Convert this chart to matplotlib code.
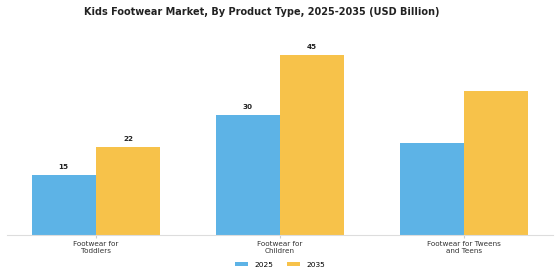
import numpy as np
import matplotlib.pyplot as plt

categories = ['Footwear for\nToddlers', 'Footwear for\nChildren', 'Footwear for Tweens\nand Teens']
values_2025 = [15, 30, 23]
values_2035 = [22, 45, 36]
labels_2025 = ['15', '30', '']
labels_2035 = ['22', '45', '']

blue = '#5DB3E6'
yellow = '#F7C24A'

fig, ax = plt.subplots(figsize=(5.6, 2.8), dpi=100)
x = np.arange(len(categories))
w = 0.35

b1 = ax.bar(x - w / 2, values_2025, w, color=blue, label='2025')
b2 = ax.bar(x + w / 2, values_2035, w, color=yellow, label='2035')
ax.bar_label(b1, labels=labels_2025, padding=4, fontsize=5.2, fontweight='bold', color='#222222')
ax.bar_label(b2, labels=labels_2035, padding=4, fontsize=5.2, fontweight='bold', color='#222222')

ax.set_xticks(x)
ax.set_xticklabels(categories, fontsize=5.2, color='#333333', linespacing=1.15)
ax.tick_params(axis='x', length=2, color='#cccccc', pad=2)
ax.set_yticks([])
for s in ['top', 'right', 'left']:
    ax.spines[s].set_visible(False)
ax.spines['bottom'].set_color('#dddddd')

fig.text(0.467, 0.957, 'Kids Footwear Market, By Product Type, 2025-2035 (USD Billion)',
         ha='center', va='center', fontsize=7, fontweight='bold', color='#222222')
fig.legend(loc='center', bbox_to_anchor=(0.5, 0.054), ncol=2, frameon=False,
           fontsize=5.4, handlelength=1.75, handleheight=0.55, handletextpad=0.8,
           columnspacing=1.9)

plt.subplots_adjust(left=0.012, right=0.988, top=0.835, bottom=0.16)
plt.savefig('out.png', dpi=100)
